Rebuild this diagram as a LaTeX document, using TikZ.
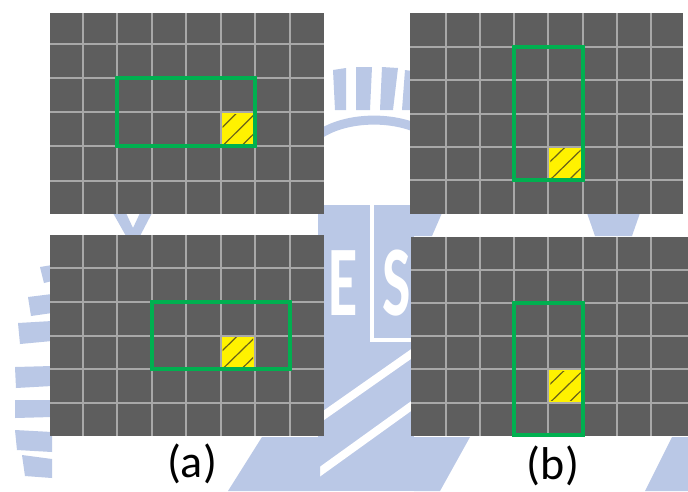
\documentclass[tikz,border=0pt]{standalone}
\usepackage{fontspec}
\setmainfont{Carlito}
\definecolor{cellgray}{RGB}{94,94,94}
\definecolor{gridgray}{RGB}{168,168,168}
\definecolor{boxgreen}{RGB}{0,176,80}
\definecolor{hatchcol}{RGB}{105,98,25}
\definecolor{wm}{RGB}{186,200,230}
\tikzset{
  gridline/.style={draw=gridgray, line width=2pt},
  winbox/.style={draw=boxgreen, line width=4pt, line join=miter},
  hitcell/.style={fill=yellow},
  hatchline/.style={draw=hatchcol, line width=1.2pt},
  sublabel/.style={font=\fontsize{46}{50}\selectfont, inner sep=0pt, text=black},
  wmletter/.style={font=\fontsize{100}{104}\selectfont\bfseries, text=white, inner sep=0pt, xscale=0.6},
}
% grid panel: #1 left, #2 top, #3 right, #4 bottom, #5 grid x origin, #6 grid y origin, #7 dx, #8 dy
\newcommand\gridpanel[8]{%
  \begin{scope}
    \fill[cellgray] (#1,#2) rectangle (#3,#4);
    \clip (#1,#2) rectangle (#3,#4);
    \foreach \k in {1,...,7} \draw[gridline] ({#5+\k*#7},#2) -- ({#5+\k*#7},#4);
    \foreach \k in {1,...,5} \draw[gridline] (#1,{#6+\k*#8}) -- (#3,{#6+\k*#8});
  \end{scope}}
% hatched cell with top-left corner (#1,#2) and size #3 x #4
\newcommand\hatchcell[4]{%
  \fill[hitcell] (#1+1,#2+1) rectangle (#1+#3-1,#2+#4-1);
  \begin{scope}
    \clip (#1+2,#2+2) rectangle (#1+#3-2,#2+#4-2);
    \foreach \c in {0.5,1.05,1.6}
      \draw[hatchline] (#1,{#2+\c*#4}) -- ({#1+\c*#3},#2);
  \end{scope}}
\begin{document}
\begin{tikzpicture}[x=1pt,y=-1pt]
\useasboundingbox (0,0) rectangle (688,491);
\fill[white] (0,0) rectangle (688,491);

% faint emblem in the background
\begin{scope}
  % rays on the left
  \fill[wm] (40,267) -- (52,265) -- (52,281) -- (44,283) -- cycle;
  \fill[wm] (28,297) -- (52,294) -- (52,313) -- (31,316) -- cycle;
  \fill[wm] (18,323) -- (52,321) -- (52,341) -- (20,344) -- cycle;
  \fill[wm] (15,367) -- (52,366) -- (52,386) -- (16,388) -- cycle;
  \fill[wm] (15,400) -- (52,400) -- (52,417) -- (15,418) -- cycle;
  \fill[wm] (15,430) -- (52,432) -- (52,452) -- (17,450) -- cycle;
  \fill[wm] (22,455) -- (52,459) -- (52,478) -- (25,476) -- cycle;
  % towers and arc at the top
  \fill[wm] (333,70) -- (346,68) -- (346,110) -- (335,110) -- cycle;
  \fill[wm] (356,67) -- (372,67) -- (370,110) -- (356,110) -- cycle;
  \fill[wm] (382,67) -- (398,68) -- (393,110) -- (380,110) -- cycle;
  \fill[wm] (405,70) -- (412,71) -- (412,110) -- (402,110) -- cycle;
  \draw[wm, line width=9pt] (320,134) .. controls (345,118) and (385,116) .. (414,127);
  % shield with letters
  \fill[wm] (318,205) rectangle (414,491);
  \draw[white, line width=4pt] (372,203) -- (372,340) -- (414,340);
  \node[wmletter] (wmE) at (343,283) {E};
  \node[wmletter] (wmS) at (397,283) {S};
  \draw[white, line width=8pt] (300,432) -- (414,352);
  \draw[white, line width=8pt] (300,486) -- (414,404);
  % lower bands
  \fill[wm] (228,491) -- (262,437) -- (320,437) -- (320,491) -- cycle;
  \fill[wm] (414,437) -- (470,437) -- (440,491) -- (414,491) -- cycle;
  \fill[wm] (645,491) -- (672,437) -- (688,437) -- (688,491) -- cycle;
  % bits between the upper and lower panels
  \fill[wm] (113,213) -- (126,213) -- (133,228) -- (140,213) -- (152,213) -- (140,236) -- (126,236) -- cycle;
  \fill[wm] (411,213) -- (442,213) -- (432,236) -- (411,236) -- cycle;
  \fill[wm] (587,213) -- (640,213) -- (632,236) -- (595,236) -- cycle;
\end{scope}

% panels
\gridpanel{50}{13}{324}{213.5}{48}{9.5}{34.5}{34.2}
\gridpanel{410}{13}{683}{213.5}{411.5}{14}{34.2}{33.2}
\gridpanel{50}{235}{324}{436}{48}{234.5}{34.5}{33.7}
\gridpanel{411}{236.5}{688}{436}{411.5}{236.5}{34.2}{33.2}

% highlighted cells
\hatchcell{220.5}{112.1}{34.5}{34.2}
\hatchcell{548.3}{146.8}{34.2}{33.2}
\hatchcell{220.5}{335.6}{34.5}{33.7}
\hatchcell{548.3}{369.3}{34.2}{33.2}

% search windows
\coordinate (wa1) at (117,77.9);  \coordinate (wa2) at (255,146.3);
\coordinate (wb1) at (514.1,47.2); \coordinate (wb2) at (582.5,180);
\coordinate (wc1) at (151.5,301.9); \coordinate (wc2) at (289.5,369.3);
\coordinate (wd1) at (514.1,302.9); \coordinate (wd2) at (582.5,435);
\draw[winbox] (wa1) rectangle (wa2);
\draw[winbox] (wb1) rectangle (wb2);
\draw[winbox] (wc1) rectangle (wc2);
\draw[winbox] (wd1) rectangle (wd2);

% captions
\node[sublabel] (capa) at (192,464) {(a)};
\node[sublabel] (capb) at (553,466) {(b)};
\end{tikzpicture}
\end{document}
